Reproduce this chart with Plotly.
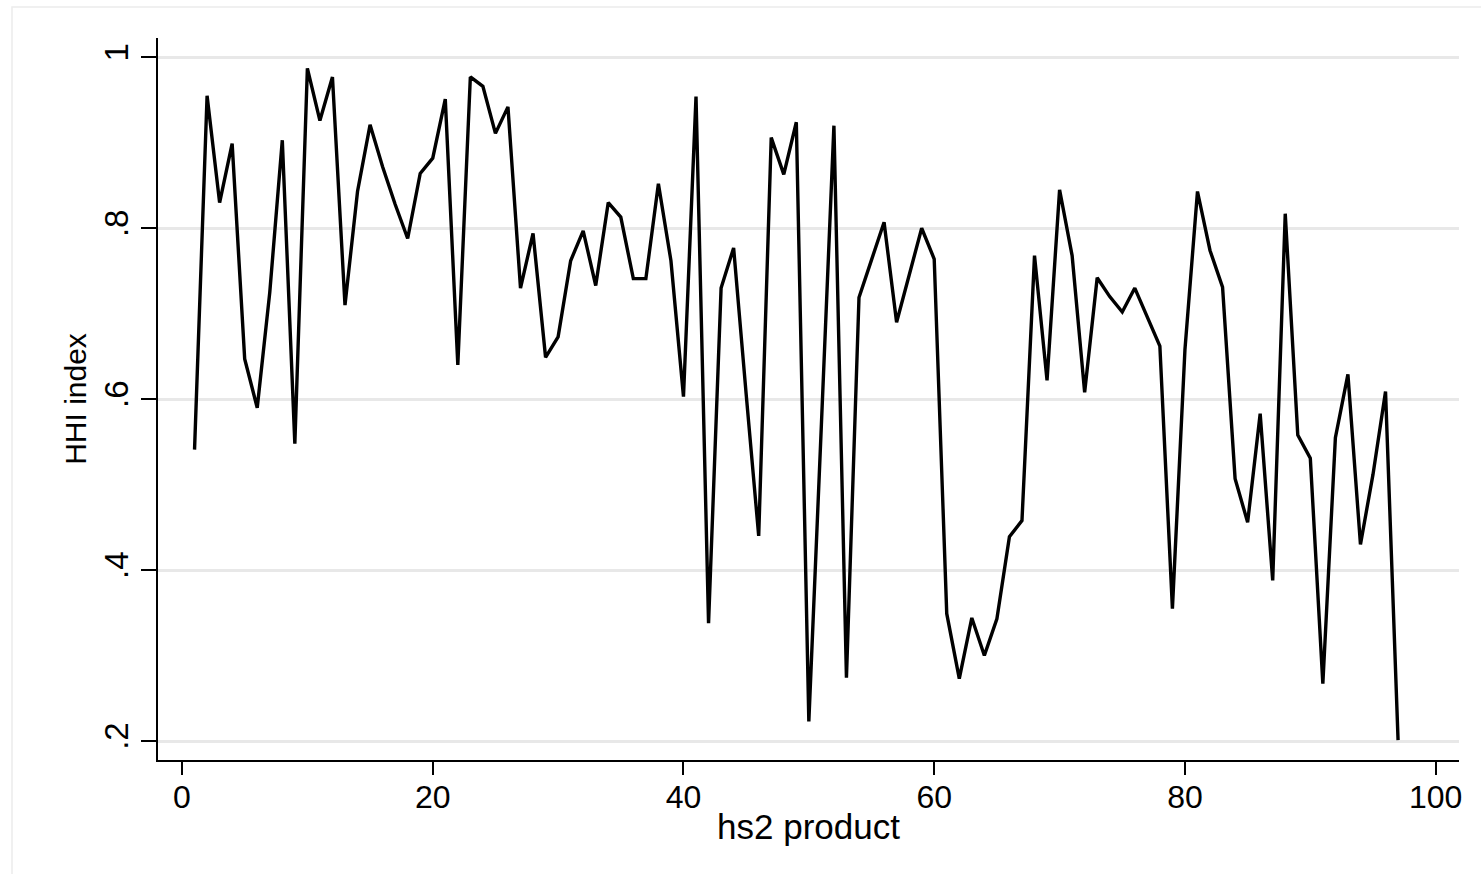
import plotly.graph_objects as go

hs2_codes = list(range(1, 77)) + list(range(78, 98))

hhi_values = [
    0.541, 0.955, 0.830, 0.899, 0.647, 0.590, 0.725, 0.903, 0.548, 0.987,
    0.926, 0.977, 0.710, 0.843, 0.921, 0.872, 0.828, 0.788, 0.864, 0.882,
    0.951, 0.640, 0.977, 0.966, 0.911, 0.942, 0.730, 0.794, 0.649, 0.673,
    0.762, 0.797, 0.733, 0.830, 0.813, 0.741, 0.741, 0.852, 0.762, 0.603,
    0.954, 0.338, 0.730, 0.777, 0.606, 0.440, 0.906, 0.863, 0.924, 0.223,
    0.570, 0.920, 0.274, 0.719, 0.763, 0.807, 0.690, 0.746, 0.800, 0.764,
    0.349, 0.273, 0.344, 0.300, 0.343, 0.439, 0.458, 0.768, 0.622, 0.845,
    0.768, 0.608, 0.742, 0.720, 0.702, 0.730,
    0.662, 0.355, 0.658, 0.843, 0.774, 0.731, 0.507, 0.456, 0.583, 0.388,
    0.817, 0.558, 0.531, 0.267, 0.555, 0.629, 0.430, 0.512, 0.609, 0.201,
]

x_ticks = [0, 20, 40, 60, 80, 100]
x_tick_labels = ["0", "20", "40", "60", "80", "100"]
y_ticks = [0.2, 0.4, 0.6, 0.8, 1.0]
y_tick_labels = [".2", ".4", ".6", ".8", "1"]

FONT = "Liberation Sans, Arial, sans-serif"

fig = go.Figure()
fig.add_trace(go.Scatter(
    x=hs2_codes, y=hhi_values, mode="lines",
    line=dict(color="#000000", width=3.4),
    showlegend=False, hoverinfo="x+y",
))

fig.update_layout(
    width=1481, height=874,
    margin=dict(l=158, r=22, t=38, b=114),
    paper_bgcolor="white", plot_bgcolor="white",
    font=dict(family=FONT, color="black"),
    xaxis=dict(
        range=[-1.915, 101.86],
        tickmode="array", tickvals=x_ticks, ticktext=x_tick_labels,
        ticks="outside", ticklen=13, tickwidth=1.5, tickcolor="black",
        tickfont=dict(size=32, family=FONT, color="black"),
        ticklabelstandoff=-5,
        showgrid=False, zeroline=False,
        showline=True, linecolor="black", linewidth=2,
        title=dict(text="hs2 product", font=dict(size=35, family=FONT, color="black"), standoff=0),
    ),
    yaxis=dict(
        range=[0.1778, 1.0226],
        tickmode="array", tickvals=y_ticks, ticktext=y_tick_labels,
        tickangle=-90,
        ticks="outside", ticklen=15, tickwidth=1.5, tickcolor="black",
        tickfont=dict(size=33, family=FONT, color="black"),
        showgrid=True, gridcolor="#e8e8e8", gridwidth=3,
        zeroline=False,
        showline=True, linecolor="black", linewidth=2,
        title=dict(text="HHI index", font=dict(size=30, family=FONT, color="black"), standoff=2),
    ),
    shapes=[dict(
        type="rect", xref="paper", yref="paper",
        x0=(12 - 158) / 1301, x1=(1495 - 158) / 1301,
        y0=(760 - 890) / 722, y1=(760 - 7) / 722,
        line=dict(color="#ececec", width=1.5), fillcolor="rgba(0,0,0,0)",
        layer="below",
    )],
)

fig.write_html("out.html")
